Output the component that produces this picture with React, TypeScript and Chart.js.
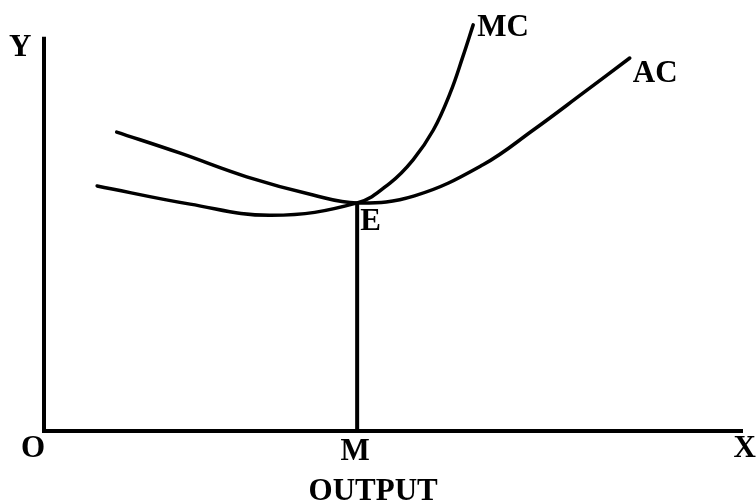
import React, { useEffect, useRef } from "react";
import { Chart, registerables } from "chart.js";

Chart.register(...registerables);

// Output (x) and cost (y) in arbitrary units, origin at O
const mcOutput = [7.6, 20.9, 32.5, 44.8, 49.5, 52.8, 55.7, 58.1, 59.9, 61.4];
const mcCost = [59.2, 54.8, 52.1, 55.1, 59.9, 65.5, 72.7, 81.6, 90.3, 98.1];

const acOutput = [10.4, 19.5, 29.0, 38.5, 44.8, 53.0, 62.8, 70.0, 77.1, 83.8];
const acCost = [72.2, 67.1, 61.4, 57.0, 55.1, 56.8, 64.3, 72.7, 81.6, 90.1];

const equilibriumOutput = 44.8; // M
const equilibriumCost = 55.1; // E
const yAxisTop = 95.2;
const xAxisEnd = 100;

const FONT = 'bold 31px "Liberation Serif", "Times New Roman", serif';

const pts = (xs: number[], ys: number[]) => xs.map((x, i) => ({ x, y: ys[i] }));

const labelPlugin = {
  id: "econLabels",
  afterDatasetsDraw(chart: any) {
    const { ctx, scales } = chart;
    const xs = scales.x;
    const ys = scales.y;
    const px = (v: number) => xs.getPixelForValue(v);
    const py = (v: number) => ys.getPixelForValue(v);
    ctx.save();
    ctx.fillStyle = "#000";
    ctx.font = FONT;
    ctx.textBaseline = "alphabetic";
    const put = (t: string, x: number, y: number, align: CanvasTextAlign) => {
      ctx.textAlign = align;
      ctx.fillText(t, x, y);
    };
    put("Y", px(0) - 35, py(yAxisTop) + 19, "left");
    put("O", px(0) + 1, py(0) + 26, "right");
    put("M", px(equilibriumOutput) - 2, py(0) + 29, "center");
    put("X", px(xAxisEnd) + 13, py(0) + 26, "right");
    put("OUTPUT", px(equilibriumOutput) + 16, py(0) + 69, "center");
    put("MC", px(mcOutput[mcOutput.length - 1]) + 4, py(mcCost[mcCost.length - 1]) + 11, "left");
    put("AC", px(acOutput[acOutput.length - 1]) + 3, py(acCost[acCost.length - 1]) + 24, "left");
    put("E", px(equilibriumOutput) + 3, py(equilibriumCost) + 27, "left");
    ctx.restore();
  },
};

export default function App() {
  const ref = useRef<HTMLCanvasElement | null>(null);

  useEffect(() => {
    if (!ref.current) return;
    const common = {
      borderColor: "#000",
      pointRadius: 0,
      fill: false,
      clip: false as any,
    };
    const chart = new Chart(ref.current, {
      type: "line",
      data: {
        datasets: [
          {
            ...common,
            label: "Y axis",
            data: [{ x: 0, y: -0.5 }, { x: 0, y: yAxisTop }],
            borderWidth: 4,
            tension: 0,
          },
          {
            ...common,
            label: "X axis",
            data: [{ x: 0, y: 0 }, { x: xAxisEnd, y: 0 }],
            borderWidth: 4,
            tension: 0,
          },
          {
            ...common,
            label: "EM",
            data: [{ x: equilibriumOutput, y: 0 }, { x: equilibriumOutput, y: equilibriumCost }],
            borderWidth: 4,
            tension: 0,
          },
          {
            ...common,
            label: "MC",
            data: pts(mcOutput, mcCost),
            borderWidth: 3.5,
            tension: 0.4,
            borderCapStyle: "round",
          },
          {
            ...common,
            label: "AC",
            data: pts(acOutput, acCost),
            borderWidth: 3.5,
            tension: 0.4,
            borderCapStyle: "round",
          },
        ],
      },
      options: {
        animation: false,
        responsive: true,
        maintainAspectRatio: false,
        layout: { padding: { left: 44, right: 13, top: 17, bottom: 71 } },
        plugins: { legend: { display: false }, tooltip: { enabled: false } },
        scales: {
          x: { type: "linear", min: 0, max: 100, display: false },
          y: { type: "linear", min: 0, max: 100, display: false },
        },
      },
      plugins: [labelPlugin],
    });
    return () => chart.destroy();
  }, []);

  return (
    <div style={{ position: "absolute", left: 0, top: 0, width: 756, height: 502, background: "#fff" }}>
      <canvas ref={ref} />
    </div>
  );
}
